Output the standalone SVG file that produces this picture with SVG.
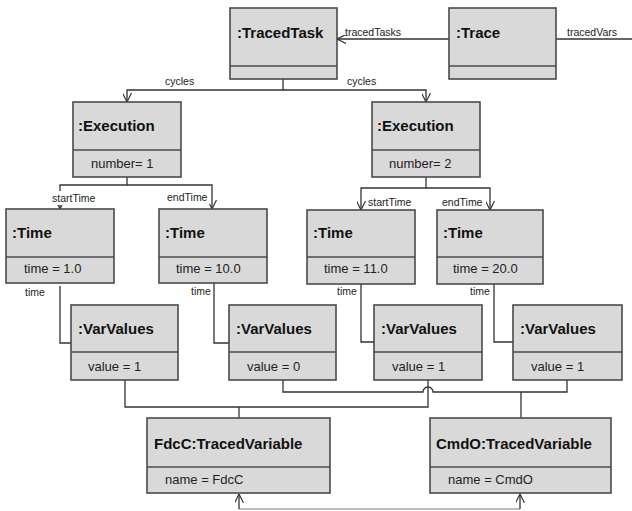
<svg xmlns="http://www.w3.org/2000/svg" width="632" height="511" viewBox="0 0 632 511">
  <style>
    .box { fill: #d9d9d9; stroke: #4a4a4a; stroke-width: 1.6; }
    .div { stroke: #4a4a4a; stroke-width: 1.6; }
    .title { font-family: "Liberation Sans", Arial, sans-serif; font-size: 15px; font-weight: bold; fill: #111; }
    .attr { font-family: "Liberation Sans", Arial, sans-serif; font-size: 13px; fill: #222; }
    .lbl { font-family: "Liberation Sans", Arial, sans-serif; font-size: 10.5px; fill: #222; }
    .lblbg { fill: #ffffff; }
    .edge { fill: none; stroke: #333; stroke-width: 1.3; }
    .edge-light { fill: none; stroke: #a6a6a6; stroke-width: 1.3; }
  </style>
  <defs>
    <marker id="open" viewBox="0 0 10 10" refX="10" refY="5" markerWidth="9" markerHeight="9" markerUnits="userSpaceOnUse" orient="auto">
      <path d="M0,0 L10,5 L0,10" fill="none" stroke="#333" stroke-width="1.3"/>
    </marker>
  </defs>

  <rect width="632" height="511" fill="#ffffff"/>

  <!-- connectors -->
  <g id="connectors">
    <!-- Trace -> TracedTask -->
    <path class="edge" d="M449,39 H337" marker-end="url(#open)"/>
    <path class="edge" d="M556,39 H632"/>
    <!-- TracedTask cycles -> Executions -->
    <path class="edge" d="M283,79 V90 H127 V102" marker-end="url(#open)"/>
    <path class="edge" d="M283,90 H426 V102" marker-end="url(#open)"/>
    <!-- Execution 1 start/end -->
    <path class="edge" d="M127,177 V185 H60 V209" marker-end="url(#open)"/>
    <path class="edge" d="M127,185 H212 V209" marker-end="url(#open)"/>
    <!-- Execution 2 start/end -->
    <path class="edge" d="M426,177 V188 H361 V210" marker-end="url(#open)"/>
    <path class="edge" d="M426,188 H490 V210" marker-end="url(#open)"/>
    <!-- Time -> VarValues -->
    <path class="edge" d="M60,286 V343 H71"/>
    <path class="edge" d="M214,283 V343 H229"/>
    <path class="edge" d="M361,284 V342 H374"/>
    <path class="edge" d="M494,284 V342 H513"/>
    <!-- VarValues -> FdcC -->
    <path class="edge" d="M125,380 V407 H428 V380"/>
    <path class="edge" d="M239,407 V418"/>
    <!-- VarValues -> CmdO (hop over the FdcC branch) -->
    <path class="edge" d="M283,380 V392 H423 A5,5 0 0 1 433,392 H567 V380"/>
    <path class="edge" d="M521,392 V418"/>
    <!-- tracedVars return into TracedVariables -->
    <path class="edge-light" d="M239,509 H520"/>
    <path class="edge" d="M239,509 V494" marker-end="url(#open)"/>
    <path class="edge" d="M520,509 V494" marker-end="url(#open)"/>

    <!-- role labels -->
    <text class="lbl" x="345" y="36">tracedTasks</text>
    <text class="lbl" x="567" y="36">tracedVars</text>
    <text class="lbl" x="165" y="85">cycles</text>
    <text class="lbl" x="347" y="85">cycles</text>
    <rect class="lblbg" x="51" y="191" width="49" height="14"/>
    <text class="lbl" x="52" y="202">startTime</text>
    <rect class="lblbg" x="165" y="190" width="45" height="14"/>
    <text class="lbl" x="167" y="201">endTime</text>
    <rect class="lblbg" x="367" y="195" width="49" height="13"/>
    <text class="lbl" x="368" y="206">startTime</text>
    <rect class="lblbg" x="441" y="195" width="45" height="13"/>
    <text class="lbl" x="442" y="206">endTime</text>
    <text class="lbl" x="25" y="296">time</text>
    <text class="lbl" x="191" y="295">time</text>
    <text class="lbl" x="337" y="295">time</text>
    <text class="lbl" x="470" y="295">time</text>
  </g>

  <!-- nodes -->
  <g id="tracedTask">
    <rect class="box" x="230" y="8" width="107" height="71"/>
    <line class="div" x1="230" y1="66" x2="337" y2="66"/>
    <text class="title" x="237" y="38">:TracedTask</text>
  </g>
  <g id="trace">
    <rect class="box" x="449" y="8" width="107" height="71"/>
    <line class="div" x1="449" y1="66" x2="556" y2="66"/>
    <text class="title" x="456" y="38">:Trace</text>
  </g>

  <g id="execution1">
    <rect class="box" x="73" y="102" width="108" height="75"/>
    <line class="div" x1="73" y1="150" x2="181" y2="150"/>
    <text class="title" x="78" y="131">:Execution</text>
    <text class="attr" x="91" y="168">number= 1</text>
  </g>
  <g id="execution2">
    <rect class="box" x="372" y="102" width="108" height="75"/>
    <line class="div" x1="372" y1="150" x2="480" y2="150"/>
    <text class="title" x="377" y="131">:Execution</text>
    <text class="attr" x="389" y="168">number= 2</text>
  </g>

  <g id="time1">
    <rect class="box" x="6" y="209" width="108" height="74"/>
    <line class="div" x1="6" y1="257" x2="114" y2="257"/>
    <text class="title" x="12" y="238">:Time</text>
    <text class="attr" x="24" y="273">time = 1.0</text>
  </g>
  <g id="time2">
    <rect class="box" x="159" y="209" width="108" height="74"/>
    <line class="div" x1="159" y1="257" x2="267" y2="257"/>
    <text class="title" x="165" y="238">:Time</text>
    <text class="attr" x="176" y="273">time = 10.0</text>
  </g>
  <g id="time3">
    <rect class="box" x="307" y="210" width="108" height="74"/>
    <line class="div" x1="307" y1="257" x2="415" y2="257"/>
    <text class="title" x="313" y="238">:Time</text>
    <text class="attr" x="324" y="273">time = 11.0</text>
  </g>
  <g id="time4">
    <rect class="box" x="437" y="210" width="106" height="74"/>
    <line class="div" x1="437" y1="257" x2="543" y2="257"/>
    <text class="title" x="443" y="238">:Time</text>
    <text class="attr" x="453" y="273">time = 20.0</text>
  </g>

  <g id="varValues1">
    <rect class="box" x="71" y="305" width="107" height="75"/>
    <line class="div" x1="71" y1="352" x2="178" y2="352"/>
    <text class="title" x="78" y="334">:VarValues</text>
    <text class="attr" x="88" y="371">value = 1</text>
  </g>
  <g id="varValues2">
    <rect class="box" x="229" y="305" width="107" height="75"/>
    <line class="div" x1="229" y1="352" x2="336" y2="352"/>
    <text class="title" x="236" y="334">:VarValues</text>
    <text class="attr" x="247" y="371">value = 0</text>
  </g>
  <g id="varValues3">
    <rect class="box" x="374" y="305" width="108" height="75"/>
    <line class="div" x1="374" y1="352" x2="482" y2="352"/>
    <text class="title" x="381" y="334">:VarValues</text>
    <text class="attr" x="392" y="371">value = 1</text>
  </g>
  <g id="varValues4">
    <rect class="box" x="513" y="305" width="109" height="75"/>
    <line class="div" x1="513" y1="352" x2="622" y2="352"/>
    <text class="title" x="520" y="334">:VarValues</text>
    <text class="attr" x="531" y="371">value = 1</text>
  </g>

  <g id="fdcC">
    <rect class="box" x="147" y="418" width="183" height="75"/>
    <line class="div" x1="147" y1="467" x2="330" y2="467"/>
    <text class="title" x="154" y="449">FdcC:TracedVariable</text>
    <text class="attr" x="165" y="484">name = FdcC</text>
  </g>
  <g id="cmdO">
    <rect class="box" x="430" y="418" width="181" height="75"/>
    <line class="div" x1="430" y1="467" x2="611" y2="467"/>
    <text class="title" x="436" y="449">CmdO:TracedVariable</text>
    <text class="attr" x="448" y="484">name = CmdO</text>
  </g>
</svg>
